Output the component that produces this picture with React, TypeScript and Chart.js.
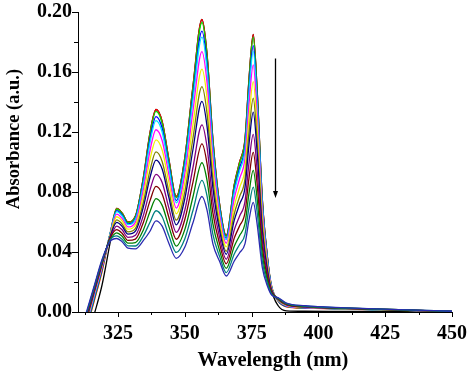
import React, { useEffect, useRef } from 'react';
import { Chart, registerables } from 'chart.js';

Chart.register(...registerables);

const WAVELENGTHS = [312, 316, 319, 322, 324.5, 326.5, 328.7, 331.5, 334.5, 337, 339.2, 341.5, 344, 346.8, 350, 353, 356.4, 358.3, 360.5, 363, 365.5, 368.5, 370.5, 372.5, 374, 375.6, 377, 379, 381, 382.5, 385, 388, 395, 410, 430, 450];

const S_BLACK = [-0.027, -0.002, 0.018, 0.046, 0.069, 0.066, 0.060, 0.064, 0.090, 0.120, 0.135, 0.127, 0.102, 0.077, 0.103, 0.150, 0.195, 0.172, 0.115, 0.072, 0.051, 0.085, 0.100, 0.115, 0.155, 0.185, 0.150, 0.075, 0.035, 0.015, 0.004, 0.0008, 0.0005, 0.0004, 0.0003, 0.0002];
const S_RED = [-0.019, 0.007, 0.027, 0.052, 0.069, 0.066, 0.060, 0.064, 0.090, 0.120, 0.135, 0.127, 0.102, 0.077, 0.103, 0.150, 0.195, 0.172, 0.115, 0.072, 0.051, 0.085, 0.100, 0.115, 0.155, 0.185, 0.150, 0.075, 0.035, 0.017, 0.007, 0.0035, 0.0026, 0.0019, 0.0011, 0.0003];
const S_GREEN = [-0.018, 0.008, 0.028, 0.052, 0.0687, 0.0657, 0.0597, 0.0636, 0.0893, 0.1188, 0.1337, 0.1257, 0.101, 0.0762, 0.102, 0.1485, 0.193, 0.1703, 0.1139, 0.0713, 0.0505, 0.0842, 0.099, 0.1139, 0.1535, 0.1832, 0.1485, 0.0743, 0.0347, 0.0169, 0.0072, 0.0037, 0.0027, 0.002, 0.0011, 0.0003];
const S_BLUE = [-0.017, 0.009, 0.029, 0.052, 0.0676, 0.0647, 0.0588, 0.0625, 0.0873, 0.1158, 0.1303, 0.1226, 0.0984, 0.0743, 0.0991, 0.144, 0.1872, 0.1651, 0.1104, 0.0695, 0.0492, 0.0816, 0.096, 0.1104, 0.1488, 0.1776, 0.144, 0.072, 0.0337, 0.0166, 0.0074, 0.0039, 0.0028, 0.0021, 0.0012, 0.0003];
const S_CYAN = [-0.016, 0.010, 0.030, 0.052, 0.0669, 0.0640, 0.0582, 0.0618, 0.0857, 0.1134, 0.1276, 0.120, 0.0964, 0.0728, 0.097, 0.141, 0.1833, 0.1617, 0.1081, 0.068, 0.0482, 0.0799, 0.094, 0.1081, 0.1457, 0.1739, 0.141, 0.0705, 0.033, 0.0164, 0.0076, 0.0041, 0.0029, 0.0021, 0.0012, 0.0003];
const S_MAGENTA = [-0.015, 0.011, 0.030, 0.051, 0.0652, 0.0624, 0.0567, 0.0599, 0.0819, 0.108, 0.1215, 0.1143, 0.0918, 0.0693, 0.0922, 0.1335, 0.1736, 0.1531, 0.1024, 0.0648, 0.0459, 0.0757, 0.089, 0.1024, 0.138, 0.1647, 0.1335, 0.0668, 0.0315, 0.0159, 0.0078, 0.0043, 0.003, 0.0022, 0.0012, 0.0003];
const S_YELLOW = [-0.014, 0.012, 0.031, 0.051, 0.0635, 0.0607, 0.0552, 0.0580, 0.0781, 0.102, 0.1148, 0.108, 0.0867, 0.0655, 0.0865, 0.1245, 0.1619, 0.1428, 0.0955, 0.0612, 0.0434, 0.0706, 0.083, 0.0955, 0.1287, 0.1536, 0.1245, 0.0623, 0.0297, 0.0153, 0.008, 0.0045, 0.0031, 0.0022, 0.0013, 0.0004];
const S_DARKYELLOW = [-0.013, 0.013, 0.032, 0.050, 0.0614, 0.0587, 0.0534, 0.0557, 0.0734, 0.0948, 0.1067, 0.1003, 0.0806, 0.0612, 0.0803, 0.1155, 0.1502, 0.1324, 0.0886, 0.0572, 0.0405, 0.0655, 0.077, 0.0886, 0.1194, 0.1425, 0.1155, 0.0578, 0.028, 0.0148, 0.0082, 0.0047, 0.0032, 0.0023, 0.0013, 0.0004];
const S_NAVY = [-0.012, 0.013, 0.032, 0.050, 0.0597, 0.0571, 0.0519, 0.0539, 0.0702, 0.090, 0.1013, 0.0953, 0.0765, 0.0581, 0.0757, 0.108, 0.1404, 0.1238, 0.0828, 0.0544, 0.0385, 0.0612, 0.072, 0.0828, 0.1116, 0.1332, 0.108, 0.054, 0.0265, 0.0143, 0.0084, 0.0049, 0.0034, 0.0024, 0.0014, 0.0004];
const S_PURPLE = [-0.011, 0.014, 0.033, 0.049, 0.0573, 0.0548, 0.0498, 0.0512, 0.0646, 0.0816, 0.0918, 0.0864, 0.0694, 0.0531, 0.068, 0.096, 0.1248, 0.1101, 0.0736, 0.0497, 0.0352, 0.0548, 0.064, 0.0736, 0.0992, 0.1184, 0.096, 0.048, 0.0242, 0.0136, 0.0086, 0.0051, 0.0035, 0.0024, 0.0014, 0.0004];
const S_WINE = [-0.010, 0.015, 0.033, 0.049, 0.0549, 0.0525, 0.0477, 0.0486, 0.0599, 0.0744, 0.0837, 0.0787, 0.0632, 0.0485, 0.0618, 0.0863, 0.1121, 0.0989, 0.0661, 0.0454, 0.0321, 0.0493, 0.0575, 0.0661, 0.0891, 0.1064, 0.0863, 0.0431, 0.0222, 0.013, 0.0088, 0.0053, 0.0037, 0.0025, 0.0015, 0.0004];
const S_OLIVE = [-0.009, 0.016, 0.034, 0.048, 0.0528, 0.0505, 0.0459, 0.0463, 0.0549, 0.0672, 0.0756, 0.0711, 0.0571, 0.0439, 0.0551, 0.0765, 0.0995, 0.0877, 0.0587, 0.041, 0.0291, 0.0438, 0.051, 0.0587, 0.0791, 0.0944, 0.0765, 0.0383, 0.0203, 0.0124, 0.009, 0.0055, 0.0038, 0.0026, 0.0015, 0.0004];
const S_DARKCYAN = [-0.008, 0.016, 0.034, 0.048, 0.0507, 0.0485, 0.0441, 0.0440, 0.0509, 0.060, 0.0675, 0.0635, 0.051, 0.0397, 0.0489, 0.0675, 0.0878, 0.0774, 0.0518, 0.0371, 0.0263, 0.0387, 0.045, 0.0518, 0.0698, 0.0833, 0.0675, 0.0338, 0.0185, 0.0118, 0.0092, 0.0057, 0.004, 0.0027, 0.0016, 0.0005];
const S_ROYAL = [-0.007, 0.017, 0.035, 0.047, 0.0490, 0.0469, 0.0426, 0.0421, 0.0477, 0.054, 0.0608, 0.0572, 0.0459, 0.0358, 0.0433, 0.0593, 0.077, 0.0679, 0.0454, 0.0338, 0.024, 0.034, 0.0395, 0.0454, 0.0612, 0.0731, 0.0593, 0.0296, 0.0168, 0.0113, 0.0095, 0.006, 0.0042, 0.0028, 0.0016, 0.0005];

// drawn top-most first
const SERIES_VALUES = [S_ROYAL, S_DARKCYAN, S_OLIVE, S_WINE, S_PURPLE, S_NAVY, S_DARKYELLOW, S_YELLOW, S_MAGENTA, S_CYAN, S_BLUE, S_GREEN, S_RED, S_BLACK];
const SERIES_COLORS = ['#2a2ab0', '#008080', '#008000', '#800000', '#800080', '#000080', '#808000', '#f0f000', '#ff00ff', '#00e8ff', '#0000ff', '#00dd00', '#ff0000', '#000000'];

const X_TICKS = [312.5, 325, 337.5, 350, 362.5, 375, 387.5, 400, 412.5, 425, 437.5, 450];
const X_MAJOR = [325, 350, 375, 400, 425, 450];
const Y_TICKS = [0, 0.02, 0.04, 0.06, 0.08, 0.1, 0.12, 0.14, 0.16, 0.18, 0.2];
const Y_LABELS = ['0.00', '', '0.04', '', '0.08', '', '0.12', '', '0.16', '', '0.20'];

const X_TITLE = 'Wavelength (nm)';
const Y_TITLE = 'Absorbance (a.u.)';

const ARROW_X = 383.6;
const ARROW_TOP = 0.169;
const ARROW_BOTTOM = 0.076;

const FONT_FAMILY = "'Liberation Serif', 'Times New Roman', serif";

const decorPlugin = {
  id: 'decor',
  afterDraw(chart: any) {
    const { ctx, chartArea, scales } = chart;
    const xs = scales.x;
    const ys = scales.y;
    ctx.save();
    ctx.strokeStyle = '#000';
    ctx.lineWidth = 1;
    X_TICKS.forEach((v) => {
      const px = Math.round(xs.getPixelForValue(v)) + 0.5;
      const len = X_MAJOR.includes(v) ? 5 : 3;
      ctx.beginPath();
      ctx.moveTo(px, chartArea.bottom);
      ctx.lineTo(px, chartArea.bottom + len);
      ctx.stroke();
    });
    Y_TICKS.forEach((v, i) => {
      const py = Math.round(ys.getPixelForValue(v)) + 0.5;
      const len = Y_LABELS[i] ? 6 : 4;
      ctx.beginPath();
      ctx.moveTo(chartArea.left, py);
      ctx.lineTo(chartArea.left - len, py);
      ctx.stroke();
    });
    // arrow
    const ax = Math.round(xs.getPixelForValue(ARROW_X)) + 0.5;
    const ay1 = ys.getPixelForValue(ARROW_TOP);
    const ay2 = ys.getPixelForValue(ARROW_BOTTOM);
    ctx.lineWidth = 1.3;
    ctx.beginPath();
    ctx.moveTo(ax, ay1);
    ctx.lineTo(ax, ay2 - 5);
    ctx.stroke();
    ctx.fillStyle = '#000';
    ctx.beginPath();
    ctx.moveTo(ax - 2.5, ay2 - 7);
    ctx.lineTo(ax + 2.5, ay2 - 7);
    ctx.lineTo(ax, ay2);
    ctx.closePath();
    ctx.fill();
    // titles
    ctx.fillStyle = '#000';
    ctx.textAlign = 'center';
    ctx.textBaseline = 'middle';
    ctx.font = `bold 20.5px ${FONT_FAMILY}`;
    ctx.fillText(X_TITLE, 273, 361);
    ctx.font = `bold 18.5px ${FONT_FAMILY}`;
    ctx.translate(14, 139);
    ctx.rotate(-Math.PI / 2);
    ctx.fillText(Y_TITLE, 0, 0);
    ctx.restore();
  },
};

export default function App() {
  const ref = useRef<HTMLCanvasElement>(null);
  useEffect(() => {
    const canvas = ref.current;
    if (!canvas) return;
    const datasets = SERIES_VALUES.map((vals, i) => ({
      data: vals.map((y, j) => ({ x: WAVELENGTHS[j], y })),
      borderColor: SERIES_COLORS[i],
      borderWidth: 1.3,
      pointRadius: 0,
      fill: false,
      cubicInterpolationMode: 'monotone' as const,
    }));
    const tickFont = { family: FONT_FAMILY, weight: 'bold' as const, size: 20 };
    const chart = new Chart(canvas, {
      type: 'line',
      data: { datasets },
      options: {
        responsive: false,
        animation: false,
        layout: { padding: { top: 12, right: 19, left: 0, bottom: 0 } },
        plugins: { legend: { display: false }, tooltip: { enabled: false } },
        scales: {
          x: {
            type: 'linear',
            min: 310,
            max: 450,
            afterBuildTicks: (scale: any) => {
              scale.ticks = X_TICKS.map((v) => ({ value: v }));
            },
            afterFit: (scale: any) => {
              scale.height = 64;
            },
            ticks: {
              autoSkip: false,
              maxRotation: 0,
              padding: 4,
              color: '#000',
              font: tickFont,
              callback: (v: any) => (X_MAJOR.includes(Number(v)) ? String(v) : ''),
            },
            grid: { display: true, drawOnChartArea: false, drawTicks: true, tickLength: 6, color: 'rgba(0,0,0,0)' },
            border: { display: true, color: '#000', width: 1 },
          },
          y: {
            type: 'linear',
            min: 0,
            max: 0.2,
            afterBuildTicks: (scale: any) => {
              scale.ticks = Y_TICKS.map((v) => ({ value: v }));
            },
            afterFit: (scale: any) => {
              scale.width = 78;
            },
            ticks: {
              autoSkip: false,
              padding: 0,
              color: '#000',
              font: tickFont,
              callback: (_v: any, i: number) => Y_LABELS[i],
            },
            grid: { display: true, drawOnChartArea: false, drawTicks: true, tickLength: 6, color: 'rgba(0,0,0,0)' },
            border: { display: true, color: '#000', width: 1 },
          },
        },
      },
      plugins: [decorPlugin],
    });
    return () => chart.destroy();
  }, []);
  return (
    <div style={{ position: 'absolute', left: 0, top: 0, width: 471, height: 376, background: '#fff' }}>
      <canvas ref={ref} width={471} height={376} style={{ display: 'block' }} />
    </div>
  );
}
